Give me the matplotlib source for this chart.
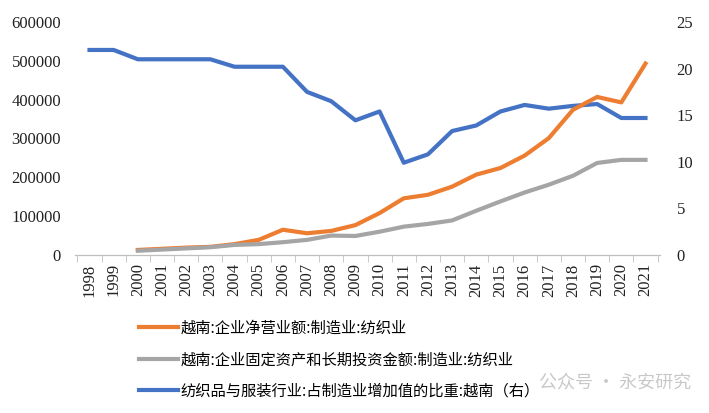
import matplotlib.pyplot as plt

plt.rcParams['font.family'] = ['Liberation Serif', 'Noto Sans CJK SC', 'DejaVu Sans']

# data
years = list(range(1998, 2022))
revenue = [None, None, 13000, 16000, 19000, 21000, 28000, 39000, 65000, 56000, 62000,
           77000, 108000, 146000, 155000, 176000, 207000, 224000, 256000, 301000,
           374000, 407000, 393000, 493000]
fixed_assets = [None, None, 11000, 14000, 17000, 20000, 26000, 28000, 33000, 39000, 50000,
                49000, 60000, 73000, 80000, 89000, 114000, 138000, 161000, 181000,
                204000, 237000, 245000, 245000]
share = [22.0, 22.0, 21.0, 21.0, 21.0, 21.0, 20.2, 20.2, 20.2, 17.5, 16.5,
         14.45, 15.4, 9.9, 10.8, 13.3, 13.9, 15.4, 16.1, 15.7, 16.0, 16.2, 14.7, 14.7]

labels = ['越南:企业净营业额:制造业:纺织业',
          '越南:企业固定资产和长期投资金额:制造业:纺织业',
          '纺织品与服装行业:占制造业增加值的比重:越南（右）']
colors = ['#ED7D31', '#A5A5A5', '#4472C4']

x = list(range(len(years)))

fig = plt.figure(figsize=(7.09, 4.13), dpi=100)
ax = fig.add_axes([75 / 709, 1 - 255 / 413, 585 / 709, 233 / 413])
ax2 = ax.twinx()

l1, = ax.plot(x, [v if v is not None else float('nan') for v in revenue], color=colors[0], lw=3)
l2, = ax.plot(x, [v if v is not None else float('nan') for v in fixed_assets], color=colors[1], lw=3)
l3, = ax2.plot(x, share, color=colors[2], lw=3)
ax.set_zorder(ax2.get_zorder() + 1)
ax.patch.set_visible(False)

ax.set_ylim(0, 600000)
ax2.set_ylim(0, 25)
ax.set_xlim(-0.6, len(years) - 0.4)
ax.set_yticks(range(0, 600001, 100000))
ax2.set_yticks(range(0, 26, 5))

for a in (ax, ax2):
    for s in ('top', 'left', 'right'):
        a.spines[s].set_visible(False)
    a.spines['bottom'].set_color('#BFBFBF')
    a.tick_params(axis='y', length=0, labelsize=12, labelcolor='#222222')

ax.tick_params(axis='y', pad=10)
ax2.tick_params(axis='y', pad=12)

ax.set_xticks(x)
ax.set_xticklabels([str(y) for y in years], rotation=90, fontsize=12, color='#222222')
ax.tick_params(axis='x', which='major', length=0, pad=6)
ax.set_xticks([i - 0.5 for i in range(len(years) + 1)], minor=True)
ax.tick_params(axis='x', which='minor', length=5, color='#BFBFBF')

fig.legend([l1, l2, l3], labels, loc='upper left', bbox_to_anchor=(125 / 709, 1 - 306 / 413),
           frameon=False, prop={'family': ['Noto Sans CJK SC', 'DejaVu Sans'], 'size': 11},
           handlelength=2.6, handletextpad=0.15, labelspacing=0.95)

fig.text(0.975, 1 - 383 / 413, '公众号 · 永安研究', ha='right', va='center', fontsize=13,
         color='#BBBBBB', alpha=0.8, family=['Noto Sans CJK SC', 'DejaVu Sans'])

fig.savefig('out.png', dpi=100)
